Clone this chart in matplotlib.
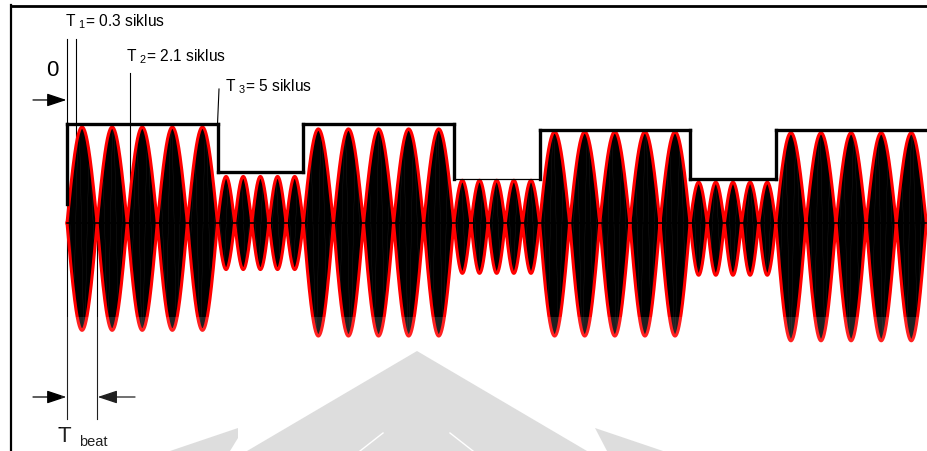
import numpy as np
import matplotlib.pyplot as plt
from matplotlib.patches import Polygon, Rectangle
from matplotlib.transforms import IdentityTransform

plt.rcParams['font.family'] = ['Liberation Sans', 'DejaVu Sans']
plt.rcParams['mathtext.default'] = 'regular'

# beat signal: 7 segments of 5 beats, alternating slow / fast beating
beats_per_seg = [5, 5, 5, 5, 5, 5, 5]
beat_period = [1.0, 0.57, 1.0, 0.57, 1.0, 0.57, 1.0]
amp_top = [1.01, 0.49, 0.99, 0.45, 0.96, 0.43, 0.95]
amp_bot = [1.13, 0.49, 1.19, 0.53, 1.19, 0.55, 1.24]

# modulating square wave
square_level = [1.04, 0.54, 1.04, 0.46, 0.98, 0.46, 0.98]
square_lw = [2.4, 2.4, 2.4, 0.9, 2.4, 2.4, 2.4]

# marked times (in beat cycles)
mark_t = [0.3, 2.1, 5.0]
mark_labels = ["T $_1$= 0.3 siklus", "T $_2$= 2.1 siklus", "T $_3$= 5 siklus"]

PX, PY = 30.1, 95.0   # pixels per unit
X0, Y0 = 67, 223      # pixel position of the origin

fig = plt.figure(figsize=(9.27, 4.51), dpi=100)
ax = fig.add_axes([0, 0, 1, 1])
ax.set_xlim(-X0 / PX, (927 - X0) / PX)
ax.set_ylim(-(451 - Y0) / PY, Y0 / PY)
ax.axis('off')

# background logo (figure pixels, origin top-left)
logo = [
    [(247, 451), (417, 351), (587, 451)],
    [(170, 451), (238, 428), (238, 438), (230, 451)],
    [(595, 428), (663, 451), (607, 451)],
]
for pts in logo:
    ax.add_patch(Polygon([(x, 451 - y) for x, y in pts], closed=True,
                         transform=IdentityTransform(),
                         facecolor='#d9d9d9', edgecolor='none', zorder=0))
for (x1, x2) in [(360, 383), (473, 450)]:
    ax.plot([x1, x2], [0, 451 - 433], color='white', lw=1.0, zorder=0.5,
            transform=IdentityTransform())

# frame
ax.plot([11 / 927, 11 / 927], [0, 1 - 5 / 451], color='black', lw=1.6, transform=ax.transAxes)
ax.plot([11 / 927, 1], [1 - 6 / 451, 1 - 6 / 451], color='black', lw=2.0, transform=ax.transAxes)

# beat signal
edges = np.concatenate([[0], np.cumsum(np.array(beats_per_seg) * np.array(beat_period))])
for i in range(len(beat_period)):
    t = np.linspace(edges[i], edges[i + 1], 1500)
    env = np.abs(np.sin(np.pi * (t - edges[i]) / beat_period[i]))
    top = amp_top[i] * env
    bot = -amp_bot[i] * env
    ax.fill_between(t, bot, top, color='black', lw=0, zorder=2)
    carrier = np.cos(2 * np.pi * 2.6 * t)
    sig = np.where(carrier > 0, top * carrier, -bot * carrier)
    ax.plot(t, sig, color='#8a8a8a', lw=0.2, alpha=0.3, zorder=2.2)
    ax.plot(t, top, color='red', lw=2.2, zorder=3)
    ax.plot(t, bot, color='red', lw=2.2, zorder=3)
ax.plot([edges[0], edges[-1]], [0, 0], color='black', lw=1.2, zorder=3.5)

# light haze over the lower part of the signal
ax.add_patch(Rectangle((edges[0] - 0.2, -(451 - Y0) / PY), edges[-1] + 0.4, (451 - 317) / PY,
                       facecolor='white', alpha=0.13, edgecolor='none', zorder=3.8))

# square wave
ax.plot([0, 0], [0.2, square_level[0]], color='black', lw=2.4, zorder=4)
for i in range(len(square_level)):
    ax.plot([edges[i], edges[i + 1]], [square_level[i]] * 2, color='black',
            lw=square_lw[i], solid_capstyle='projecting', zorder=4)
    if i + 1 < len(square_level):
        ax.plot([edges[i + 1]] * 2, [square_level[i], square_level[i + 1]],
                color='black', lw=2.4, solid_capstyle='projecting', zorder=4)

# annotation lines
top_px = [39, 73, 89]
ax.plot([0, 0], [(Y0 - 39) / PY, -(419 - Y0) / PY], color='black', lw=0.8, zorder=1)
ax.plot([1.0, 1.0], [0, -(419 - Y0) / PY], color='black', lw=0.8, zorder=1)
ax.plot([mark_t[0]] * 2, [(Y0 - top_px[0]) / PY, 0], color='black', lw=0.8, zorder=1)
ax.plot([mark_t[1]] * 2, [(Y0 - top_px[1]) / PY, 0], color='black', lw=0.8, zorder=1)
ax.plot([mark_t[2] + 0.05, mark_t[2]], [(Y0 - top_px[2]) / PY, square_level[0]],
        color='black', lw=0.8, zorder=1)

label_pos = [(-0.07, 2.12), (1.96, 1.75), (5.25, 1.44)]
for (x, y), s in zip(label_pos, mark_labels):
    ax.text(x, y, s, fontsize=11.2, ha='left', va='center')

arrow = dict(arrowstyle='-|>,head_length=1.2,head_width=0.4', color='black',
             lw=0.9, mutation_scale=10, shrinkA=0, shrinkB=0)
ax.text(-0.5, 1.61, "0", fontsize=16, ha='center', va='center')
ax.annotate("", xy=(-0.02, 1.295), xytext=(-1.13, 1.295), arrowprops=arrow)

y_beat = -(397 - Y0) / PY
ax.annotate("", xy=(-0.02, y_beat), xytext=(-1.13, y_beat), arrowprops=arrow)
ax.annotate("", xy=(1.02, y_beat), xytext=(2.26, y_beat), arrowprops=arrow)
ax.text(-0.33, -(436 - Y0) / PY, "T", fontsize=16, ha='left', va='center')
ax.text(0.4, -(442 - Y0) / PY, "beat", fontsize=10.5, ha='left', va='center')

fig.savefig("out.png", dpi=100)
